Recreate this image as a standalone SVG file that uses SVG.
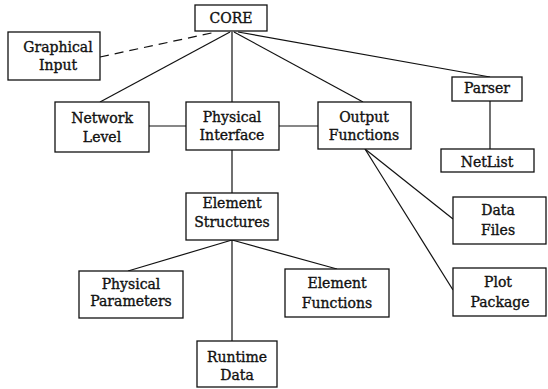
<svg xmlns="http://www.w3.org/2000/svg" width="548" height="389" viewBox="0 0 548 389">
<style>
.box{fill:#fff;stroke:#111;stroke-width:1.3}
.ln{fill:none;stroke:#111;stroke-width:1.2}
.dash{stroke-dasharray:9 6}
text{font-family:"DejaVu Serif","Liberation Serif",serif;font-size:14px;fill:#111;stroke:#111;stroke-width:0.35;text-anchor:middle}
</style>
<rect width="548" height="389" fill="#fff"/>
<g id="connectors">
<line class="ln dash" x1="100" y1="57" x2="216" y2="32"/>
<line class="ln" x1="230" y1="32" x2="100" y2="102"/>
<line class="ln" x1="232" y1="32" x2="232" y2="102"/>
<line class="ln" x1="234" y1="32" x2="363" y2="102"/>
<line class="ln" x1="238" y1="32" x2="490" y2="77"/>
<line class="ln" x1="149" y1="126" x2="186" y2="126"/>
<line class="ln" x1="279" y1="126" x2="318" y2="126"/>
<line class="ln" x1="232" y1="150" x2="232" y2="193"/>
<line class="ln" x1="490" y1="101" x2="490" y2="149"/>
<line class="ln" x1="365" y1="149" x2="453" y2="219"/>
<line class="ln" x1="365" y1="149" x2="453" y2="290"/>
<line class="ln" x1="232" y1="240" x2="128" y2="271"/>
<line class="ln" x1="232" y1="240" x2="232" y2="341"/>
<line class="ln" x1="232" y1="240" x2="337" y2="269"/>
</g>
<g id="core"><rect class="box" x="195" y="5" width="72" height="26"/><text x="231" y="23">CORE</text></g>
<g id="graphical-input"><rect class="box" x="8" y="32" width="92" height="48"/><text x="58" y="52">Graphical</text><text x="58" y="70">Input</text></g>
<g id="network-level"><rect class="box" x="55" y="102" width="94" height="50"/><text x="102" y="123">Network</text><text x="102" y="142">Level</text></g>
<g id="physical-interface"><rect class="box" x="186" y="102" width="93" height="48"/><text x="232" y="122">Physical</text><text x="232" y="140">Interface</text></g>
<g id="output-functions"><rect class="box" x="318" y="102" width="93" height="47"/><text x="364" y="122">Output</text><text x="364" y="140">Functions</text></g>
<g id="parser"><rect class="box" x="452" y="77" width="70" height="24"/><text x="487" y="93">Parser</text></g>
<g id="netlist"><rect class="box" x="441" y="149" width="93" height="23"/><text x="487" y="167">NetList</text></g>
<g id="data-files"><rect class="box" x="453" y="197" width="93" height="47"/><text x="498" y="215">Data</text><text x="498" y="235">Files</text></g>
<g id="element-structures"><rect class="box" x="186" y="193" width="92" height="47"/><text x="232" y="208">Element</text><text x="232" y="227">Structures</text></g>
<g id="physical-parameters"><rect class="box" x="79" y="271" width="104" height="47"/><text x="131" y="289">Physical</text><text x="131" y="306">Parameters</text></g>
<g id="runtime-data"><rect class="box" x="197" y="341" width="80" height="46"/><text x="237" y="362">Runtime</text><text x="237" y="380">Data</text></g>
<g id="element-functions"><rect class="box" x="285" y="269" width="104" height="48"/><text x="337" y="288">Element</text><text x="337" y="308">Functions</text></g>
<g id="plot-package"><rect class="box" x="453" y="268" width="93" height="48"/><text x="498" y="287">Plot</text><text x="500" y="307">Package</text></g>
</svg>
